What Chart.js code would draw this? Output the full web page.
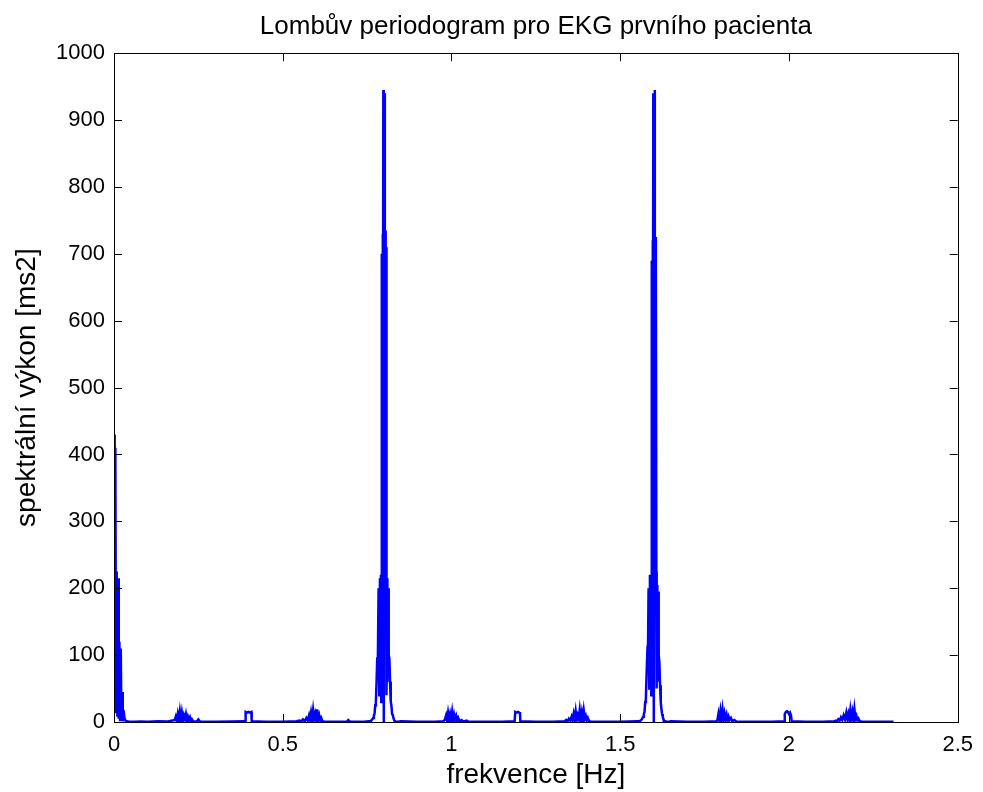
<!DOCTYPE html>
<html>
<head>
<meta charset="utf-8">
<script src="https://cdn.jsdelivr.net/npm/chart.js@4.4.1/dist/chart.umd.min.js"></script>
<style>
  html, body { margin: 0; padding: 0; background: #fff; }
  #wrap { width: 983px; height: 792px; }
</style>
</head>
<body>
<div id="wrap"><canvas id="lomb" width="983" height="792"></canvas></div>
<script>
// Lomb periodogram, first patient ECG
const titleText = 'Lombův periodogram pro EKG prvního pacienta';
const xTitle = 'frekvence [Hz]';
const yTitle = 'spektrální výkon [ms2]';

const xTicks = [0, 0.5, 1, 1.5, 2, 2.5];
const xTickLabels = ['0', '0.5', '1', '1.5', '2', '2.5'];
const yTicks = [0, 100, 200, 300, 400, 500, 600, 700, 800, 900, 1000];

// frequency [Hz]
const freq = [
  // peak at 0 Hz
  0, 0.002, 0.004, 0.006, 0.008, 0.010, 0.012, 0.014, 0.016, 0.018, 0.020, 0.022, 0.024, 0.026, 0.028, 0.031, 0.034, 0.038, 0.045, 0.06,
  0.08, 0.1, 0.13, 0.16, 0.17,
  // ~0.2 Hz
  0.180, 0.183, 0.186, 0.189, 0.192, 0.195, 0.198, 0.201, 0.204, 0.207, 0.210, 0.213, 0.216, 0.219, 0.222, 0.225, 0.228, 0.231, 0.235, 0.245, 0.25, 0.255,
  0.3, 0.35, 0.385,
  // ~0.4 Hz
  0.389, 0.390, 0.394, 0.399, 0.403, 0.407, 0.408,
  0.45, 0.5, 0.54,
  // ~0.6 Hz
  0.550, 0.555, 0.560, 0.565, 0.570, 0.574, 0.578, 0.581, 0.584, 0.587, 0.590, 0.593, 0.596, 0.599, 0.602, 0.605, 0.608, 0.611, 0.614, 0.618, 0.625,
  0.66, 0.69, 0.694, 0.70, 0.74, 0.755,
  // peak at 0.8 Hz
  0.760, 0.764, 0.768, 0.770, 0.772, 0.774, 0.776, 0.778, 0.780, 0.782, 0.784, 0.786, 0.788,
  0.790, 0.791, 0.792, 0.793, 0.794, 0.795, 0.796, 0.797, 0.798, 0.799, 0.800,
  0.801, 0.802, 0.803, 0.804, 0.805, 0.806, 0.807, 0.808, 0.809, 0.810,
  0.812, 0.814, 0.816, 0.818, 0.820, 0.822, 0.824, 0.826, 0.828, 0.830, 0.832, 0.836, 0.840,
  0.85, 0.9, 0.95, 0.975,
  // ~1.0 Hz
  0.980, 0.984, 0.987, 0.990, 0.993, 0.996, 0.999, 1.002, 1.005, 1.008, 1.011, 1.014, 1.017, 1.020, 1.024, 1.030, 1.035, 1.045, 1.05,
  1.1, 1.15, 1.187,
  // ~1.2 Hz
  1.188, 1.189, 1.193, 1.197, 1.201, 1.203, 1.204,
  1.25, 1.3, 1.335,
  // ~1.4 Hz
  1.340, 1.344, 1.348, 1.352, 1.356, 1.359, 1.362, 1.365, 1.368, 1.371, 1.374, 1.377, 1.380, 1.383, 1.386, 1.389, 1.392, 1.395, 1.398, 1.401, 1.404, 1.408, 1.415,
  1.45, 1.5, 1.55,
  // peak at 1.6 Hz
  1.556, 1.560, 1.564, 1.568, 1.570, 1.572, 1.574, 1.576, 1.578, 1.580, 1.582, 1.584, 1.586, 1.588,
  1.590, 1.591, 1.592, 1.593, 1.594, 1.595, 1.596, 1.597, 1.598, 1.599, 1.600,
  1.601, 1.602, 1.603, 1.604, 1.605, 1.606, 1.607, 1.608, 1.609, 1.610,
  1.612, 1.614, 1.616, 1.618, 1.620, 1.622, 1.624, 1.626, 1.628, 1.630, 1.634, 1.638, 1.645,
  1.65, 1.7, 1.75, 1.785,
  // ~1.8 Hz
  1.788, 1.791, 1.794, 1.797, 1.800, 1.803, 1.806, 1.809, 1.812, 1.815, 1.818, 1.821, 1.824, 1.828, 1.832, 1.838, 1.845,
  1.9, 1.95, 1.986,
  // ~2.0 Hz
  1.987, 1.988, 1.991, 1.994, 1.997, 2.000, 2.003, 2.006, 2.008,
  2.05, 2.1, 2.135,
  // ~2.2 Hz
  2.138, 2.142, 2.146, 2.150, 2.154, 2.158, 2.162, 2.166, 2.170, 2.173, 2.176, 2.179, 2.182, 2.185, 2.188, 2.191, 2.194, 2.197, 2.200, 2.203, 2.206, 2.210, 2.218,
  2.25, 2.31
];

// spectral power [ms2]
const power = [
  430, 25, 410, 15, 225, 8, 215, 5, 120, 3, 110, 2, 45, 1, 18, 6, 2, 1, 0.5, 0.3,
  0.8, 0.5, 1, 0.8, 2,
  3, 8, 2, 12, 4, 16, 3, 14, 2, 10, 5, 12, 2, 8, 3, 7, 1, 4, 1, 0.5, 4, 0.5,
  0.5, 0.8, 1,
  1, 15, 14, 15, 14, 15, 1,
  0.5, 0.5, 1,
  2, 1, 4, 1, 6, 2, 10, 3, 14, 4, 18, 5, 12, 3, 19, 4, 10, 2, 6, 1, 0.5,
  0.5, 0.5, 3, 0.5, 0.5, 1,
  1, 3, 6, 10, 12, 25, 30, 60, 95, 100, 200, 40, 215,
  60, 220, 30, 225, 700, 120, 730, 300, 945, 500, 0,
  600, 940, 350, 735, 150, 710, 225, 40, 215, 60,
  200, 100, 95, 60, 30, 25, 12, 10, 6, 3, 1, 0.5, 0.3,
  1, 0.5, 0.5, 1,
  3, 10, 2, 14, 4, 12, 3, 15, 2, 11, 4, 9, 2, 6, 1, 3, 0.5, 2, 0.5,
  0.5, 0.5, 1,
  1, 15, 14, 15, 14, 15, 1,
  0.5, 0.5, 1,
  3, 1, 5, 2, 8, 3, 12, 4, 16, 3, 10, 5, 18, 4, 14, 2, 17, 5, 9, 2, 6, 1, 0.5,
  0.5, 0.5, 1,
  1, 2, 4, 8, 12, 15, 30, 35, 70, 100, 95, 200, 50, 220,
  70, 215, 40, 225, 690, 140, 720, 320, 940, 480, 0,
  620, 945, 330, 725, 160, 700, 225, 50, 205, 60,
  195, 100, 90, 55, 30, 20, 12, 8, 4, 2, 1, 0.5, 0.3,
  1, 0.5, 0.5, 1,
  3, 12, 2, 16, 4, 18, 3, 13, 5, 11, 2, 8, 3, 6, 1, 3, 0.5,
  0.5, 0.5, 1,
  1, 12, 15, 16, 15, 12, 14, 10, 1,
  0.5, 0.5, 1,
  2, 1, 4, 2, 7, 3, 10, 4, 14, 5, 12, 3, 18, 6, 15, 3, 19, 5, 9, 2, 5, 1, 0.5,
  0.5, 0.5
];

const FONT = "'Liberation Sans', Arial, sans-serif";

// MATLAB-like box with inward ticks on all four sides
const boxPlugin = {
  id: 'matlabBox',
  afterDatasetsDraw(chart){
    const {ctx, chartArea: a, scales} = chart;
    const tl = 8;
    ctx.save();
    ctx.strokeStyle = '#000';
    ctx.lineWidth = 1;
    ctx.strokeRect(Math.round(a.left)+0.5, Math.round(a.top)+0.5, Math.round(a.width), Math.round(a.height));
    ctx.beginPath();
    xTicks.forEach(v=>{
      const px = Math.round(scales.x.getPixelForValue(v))+0.5;
      ctx.moveTo(px, a.bottom); ctx.lineTo(px, a.bottom-tl);
      ctx.moveTo(px, a.top); ctx.lineTo(px, a.top+tl);
    });
    yTicks.forEach(v=>{
      const py = Math.round(scales.y.getPixelForValue(v))+0.5;
      ctx.moveTo(a.left, py); ctx.lineTo(a.left+tl, py);
      ctx.moveTo(a.right, py); ctx.lineTo(a.right-tl, py);
    });
    ctx.stroke();
    ctx.restore();
  }
};

const ctx = document.getElementById('lomb').getContext('2d');
new Chart(ctx, {
  type: 'line',
  data: {
    datasets: [{
      data: freq.map((f,i)=> ({x: f, y: power[i]})),
      borderColor: '#0000ff',
      borderWidth: 2.5,
      pointRadius: 0,
      tension: 0,
      fill: false
    }]
  },
  options: {
    responsive: false,
    animation: false,
    layout: { padding: { left: 0, right: 18, top: 0, bottom: 0 } },
    plugins: {
      legend: { display: false },
      tooltip: { enabled: false },
      title: {
        display: true,
        fullSize: false,
        text: titleText,
        color: '#000',
        font: { family: FONT, size: 26, weight: 'normal' },
        padding: { top: 11, bottom: 11 }
      }
    },
    scales: {
      x: {
        type: 'linear',
        min: 0, max: 2.5,
        afterBuildTicks(scale){ scale.ticks = xTicks.map(v=>({value: v})); },
        afterFit(scale){ scale.height = 70; },
        grid: { display: false, drawTicks: false, tickLength: 0 },
        border: { display: false },
        ticks: {
          color: '#000',
          font: { family: FONT, size: 22 },
          padding: 10,
          maxRotation: 0,
          callback: (v)=> xTickLabels[xTicks.indexOf(v)]
        },
        title: {
          display: true, text: xTitle, color: '#000',
          font: { family: FONT, size: 28 },
          padding: { top: 0, bottom: 0 }
        }
      },
      y: {
        min: 0, max: 1000,
        afterBuildTicks(scale){ scale.ticks = yTicks.map(v=>({value: v})); },
        afterFit(scale){ scale.width = 114; },
        grid: { display: false, drawTicks: false, tickLength: 0 },
        border: { display: false },
        ticks: {
          color: '#000',
          font: { family: FONT, size: 22 },
          padding: 9,
          callback: (v)=> String(v)
        },
        title: {
          display: true, text: yTitle, color: '#000',
          font: { family: FONT, size: 28 },
          padding: { top: 10, bottom: 0 }
        }
      }
    }
  },
  plugins: [boxPlugin]
});
</script>
</body>
</html>
